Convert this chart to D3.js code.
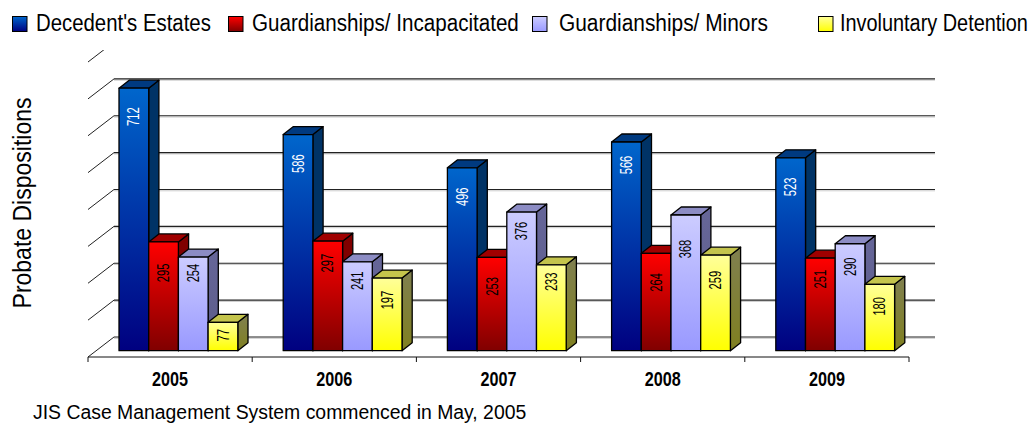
<!DOCTYPE html>
<html><head><meta charset="utf-8">
<script src="https://cdn.jsdelivr.net/npm/d3@7/dist/d3.min.js"></script>
<style>
html,body{margin:0;padding:0;background:#fff;overflow:hidden}
text{font-family:"Liberation Sans",Arial,sans-serif;fill:#000}
</style></head><body>
<svg id="c" width="1036" height="423"></svg>
<script>
const years = ["2005","2006","2007","2008","2009"];
const seriesNames = ["Decedent's Estates","Guardianships/ Incapacitated","Guardianships/ Minors","Involuntary Detention"];
const decedents = [712,586,496,566,523];
const incapacitated = [295,297,253,264,251];
const minors = [254,241,376,368,290];
const involuntary = [77,197,233,259,180];
const gridValues = [0,100,200,300,400,500,600,700,800];
const seriesValues = [decedents,incapacitated,minors,involuntary];

const palette = [
 {front:["#0066cc","#000080"],side:["#003366","#003366"],top:["#003a80","#003a80"],label:"#fff"},
 {front:["#ff0000","#800000"],side:["#800000","#800000"],top:["#a00000","#a00000"],label:"#000"},
 {front:["#ccccff","#9999ff"],side:["#666699","#5c5c88"],top:["#8c8cc4","#8c8cc4"],label:"#000"},
 {front:["#ffff99","#ffff00"],side:["#808050","#808020"],top:["#c4c44c","#c4c44c"],label:"#000"}
];

const svg = d3.select("#c");
const defs = svg.append("defs");
defs.append("clipPath").attr("id","plot").append("rect").attr("x",0).attr("y",50).attr("width",1036).attr("height",373);
palette.forEach((p,i)=>{
  ["front","side","top"].forEach(k=>{
    const g = defs.append("linearGradient").attr("id",`g${i}${k}`).attr("x1",0).attr("x2",0).attr("y1",0).attr("y2",1);
    g.append("stop").attr("offset",0).attr("stop-color",p[k][0]);
    g.append("stop").attr("offset",1).attr("stop-color",p[k][1]);
  });
});

// squeeze or stretch text horizontally to the reference's condensed width
function fit(sel,len,base){
  sel.each(function(){
    const s = len/this.getComputedTextLength();
    d3.select(this).attr("transform",`${base||""} scale(${s},1)`);
  });
  return sel;
}

const x = d3.scaleBand().domain(years).range([88,909]).padding(0);
const y = d3.scaleLinear().domain([0,800]).range([357,62]);
const wallDx = 26, wallDy = -20;
const barW = 29.7, barOffX = 31, barPlaneDy = -6.3, depthX = 10.2, depthY = -8;
const inner = d3.scaleBand().domain(d3.range(4)).range([barOffX, barOffX + 4*barW]);
// how far below each bar's top edge its value label sits [series][year]
const labelDrop = [[28.5,29,29,23,29],[31,22,29,29,21],[16,19,19,34,23],[13,22,17,25,22]];

// walls
const grid = svg.append("g").attr("clip-path","url(#plot)");
grid.selectAll("line.sh").data(gridValues.slice(0,8)).join("line")
  .attr("x1",88+wallDx).attr("x2",909+wallDx)
  .attr("y1",d=>y(d)+wallDy+1.3).attr("y2",d=>y(d)+wallDy+1.3)
  .attr("stroke","#ccc").attr("stroke-width",1);
grid.selectAll("line.gl").data(gridValues.slice(0,8)).join("line")
  .attr("x1",88+wallDx).attr("x2",909+wallDx)
  .attr("y1",d=>y(d)+wallDy).attr("y2",d=>y(d)+wallDy)
  .attr("stroke","#222").attr("stroke-width",1.1);
grid.selectAll("line.diag").data(gridValues).join("line")
  .attr("x1",88).attr("x2",88+wallDx)
  .attr("y1",d=>y(d)).attr("y2",d=>y(d)+wallDy)
  .attr("stroke","#222").attr("stroke-width",1);

// x axis
const axis = svg.append("g").attr("transform",`translate(0,${y(0)})`).call(
  d3.axisBottom(x).tickSize(0).tickPadding(0).tickFormat(d=>d));
axis.select(".domain").remove();
axis.selectAll("text").attr("font-size",20).attr("font-weight","bold")
  .attr("dy",0).attr("y",29.5);
fit(axis.selectAll("text"),36);
axis.append("line").attr("x1",88).attr("x2",909).attr("y1",0).attr("y2",0).attr("stroke","#111");
axis.selectAll("line.t").data(years.concat(["end"])).join("line").attr("class","t")
  .attr("x1",(d,i)=>88+i*x.bandwidth()).attr("x2",(d,i)=>88+i*x.bandwidth())
  .attr("y1",0).attr("y2",5).attr("stroke","#111");

// bars
const bars = svg.append("g");
years.forEach((yr,gi)=>{
  seriesValues.forEach((vals,si)=>{
    const v = vals[gi];
    const x0 = x(yr)+inner(si), x1 = x0+barW;
    const yb = y(0)+barPlaneDy, yt = y(v)+barPlaneDy;
    const g = bars.append("g").attr("stroke","#000").attr("stroke-width",1.3).attr("stroke-linejoin","round");
    g.append("polygon").attr("fill",`url(#g${si}side)`)
      .attr("points",[[x1,yb],[x1,yt],[x1+depthX,yt+depthY],[x1+depthX,yb+depthY]].join(" "));
    g.append("polygon").attr("fill",`url(#g${si}top)`)
      .attr("points",[[x0,yt],[x1,yt],[x1+depthX,yt+depthY],[x0+depthX,yt+depthY]].join(" "));
    g.append("rect").attr("x",x0).attr("y",yt).attr("width",barW).attr("height",yb-yt).attr("fill",`url(#g${si}front)`);
    const t = g.append("text").attr("stroke","none")
      .attr("text-anchor","middle").attr("dy","0.35em").attr("font-size",16)
      .style("fill",palette[si].label).text(v);
    fit(t,String(v).length*6.2,`translate(${x0+barW/2},${yt+labelDrop[si][gi]}) rotate(-90)`);
  });
});

// legend
const legX = [12,228,532,818], txtX=[36,252,559,840], txtLen=[175,267,209,188];
const legend = svg.append("g");
seriesNames.forEach((n,i)=>{
  legend.append("rect").attr("x",legX[i]+0.5).attr("y",16.5).attr("width",14.5).attr("height",15)
    .attr("fill",`url(#g${i}front)`).attr("stroke","#000").attr("stroke-width",1);
  fit(legend.append("text").attr("font-size",24.5).text(n),txtLen[i],`translate(${txtX[i]},31)`);
});

fit(svg.append("text").attr("text-anchor","middle").attr("font-size",25).text("Probate Dispositions"),211,"translate(31,203) rotate(-90)");
svg.append("text").attr("x",33).attr("y",418.5).attr("font-size",19.4)
  .text("JIS Case Management System commenced in May, 2005");
</script>
</body></html>
